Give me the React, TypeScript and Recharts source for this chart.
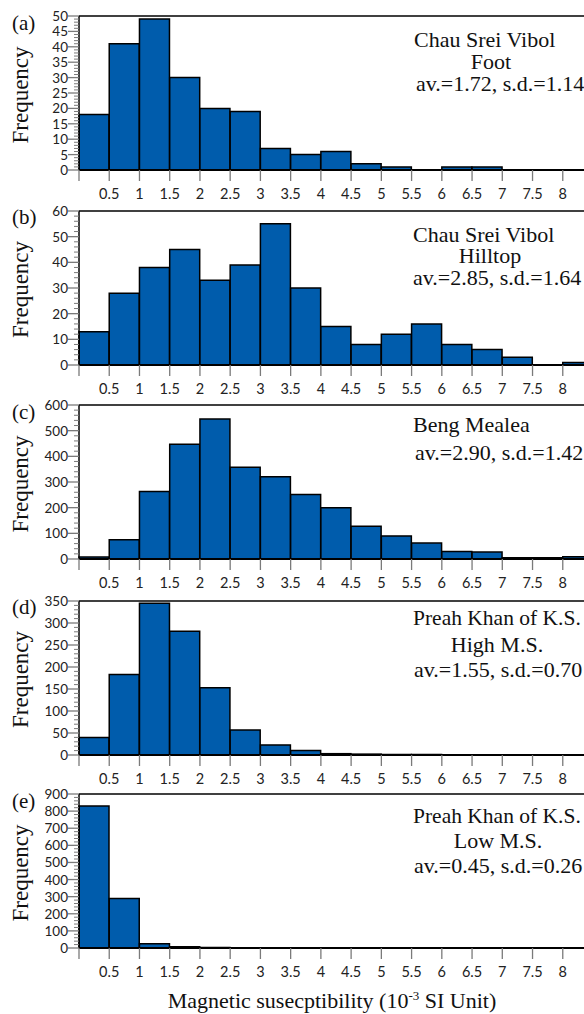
import React from 'react';
import { BarChart, Bar, XAxis, YAxis, ReferenceLine } from 'recharts';

// ---- data ----
const binEdges = [0, 0.5, 1, 1.5, 2, 2.5, 3, 3.5, 4, 4.5, 5, 5.5, 6, 6.5, 7, 7.5, 8];
const freqFoot = [18, 41, 49, 30, 20, 19, 7, 5, 6, 2, 1, 0, 1, 1, 0, 0, 0];
const freqHilltop = [13, 28, 38, 45, 33, 39, 55, 30, 15, 8, 12, 16, 8, 6, 3, 0, 1];
const freqBeng = [8, 75, 263, 447, 545, 357, 320, 251, 200, 128, 90, 62, 29, 27, 5, 5, 9];
const freqHigh = [40, 183, 345, 281, 153, 57, 23, 10, 3, 2, 1, 1, 0, 0, 0, 0, 0];
const freqLow = [830, 290, 25, 8, 3, 0, 0, 0, 0, 0, 0, 0, 0, 0, 0, 0, 0];

const yTicksA = [0, 5, 10, 15, 20, 25, 30, 35, 40, 45, 50];
const yTicksB = [0, 10, 20, 30, 40, 50, 60];
const yTicksC = [0, 100, 200, 300, 400, 500, 600];
const yTicksD = [0, 50, 100, 150, 200, 250, 300, 350];
const yTicksE = [0, 100, 200, 300, 400, 500, 600, 700, 800, 900];

const panelLabels = ['(a)', '(b)', '(c)', '(d)', '(e)'];
const annotA = ['Chau Srei Vibol', 'Foot', 'av.=1.72, s.d.=1.14'];
const annotB = ['Chau Srei Vibol', 'Hilltop', 'av.=2.85, s.d.=1.64'];
const annotC = ['Beng Mealea', 'av.=2.90, s.d.=1.42'];
const annotD = ['Preah Khan of K.S.', 'High M.S.', 'av.=1.55, s.d.=0.70'];
const annotE = ['Preah Khan of K.S.', 'Low M.S.', 'av.=0.45, s.d.=0.26'];

// ---- layout / style ----
const PAGE_W = 584;
const PAGE_H = 1014;
const CHART_W = 593;
const Y_AXIS_W = 79;
const MARGIN_TOP = 10;
const PLOT_H = 154;
const X_AXIS_H = 42;
const CHART_H = MARGIN_TOP + PLOT_H + X_AXIS_H;
const BAR_FILL = '#005cac';
const TICK_GREY = '#7a7a7a';
const SERIF = '"Liberation Serif", "Times New Roman", serif';
const SANS = 'Lato, "Open Sans", sans-serif';

type LineSpec = { dx: number; dy: number; anchor: 'start' | 'middle'; size?: number };

const panels = [
  { values: freqFoot, majors: yTicksA, minorStep: 1, top: 16, annot: annotA,
    lines: [{ dx: 414, dy: 31, anchor: 'start' }, { dx: 491, dy: 53, anchor: 'middle' }, { dx: 416, dy: 75, anchor: 'start' }] as LineSpec[] },
  { values: freqHilltop, majors: yTicksB, minorStep: 2, top: 210.5, annot: annotB,
    lines: [{ dx: 413, dy: 31, anchor: 'start' }, { dx: 490, dy: 52.5, anchor: 'middle' }, { dx: 413, dy: 74, anchor: 'start' }] as LineSpec[] },
  { values: freqBeng, majors: yTicksC, minorStep: 20, top: 405, annot: annotC,
    lines: [{ dx: 413, dy: 27, anchor: 'start' }, { dx: 415, dy: 55, anchor: 'start' }] as LineSpec[] },
  { values: freqHigh, majors: yTicksD, minorStep: 10, top: 600.5, annot: annotD,
    lines: [{ dx: 413, dy: 24.5, anchor: 'start', size: 21.5 }, { dx: 497, dy: 51, anchor: 'middle' }, { dx: 414, dy: 76, anchor: 'start' }] as LineSpec[] },
  { values: freqLow, majors: yTicksE, minorStep: 20, top: 794, annot: annotE,
    lines: [{ dx: 413, dy: 29, anchor: 'start', size: 21.5 }, { dx: 498, dy: 54, anchor: 'middle' }, { dx: 414, dy: 79, anchor: 'start' }] as LineSpec[] },
];

function minorTicks(majors: number[], step: number): number[] {
  const max = majors[majors.length - 1];
  const out: number[] = [];
  for (let v = 0; v <= max + 1e-9; v += step) out.push(Math.round(v * 1000) / 1000);
  return out;
}

const renderXTick = (props: any) => {
  const { x, y, payload } = props;
  const half = payload && typeof payload.offset === 'number' && payload.offset > 0 ? payload.offset : 15.12;
  const x0 = x - half;
  const v = payload.value;
  return (
    <g>
      <line x1={x0} y1={y} x2={x0} y2={y + 11} stroke={TICK_GREY} strokeWidth={1.3} />
      {v !== 0 && (
        <text x={x0} y={y + 23} textAnchor="middle" dominantBaseline="central"
          fontFamily={SANS} fontSize={14.5} fill="#222">{String(v)}</text>
      )}
    </g>
  );
};

const makeYTick = (majors: number[]) => (props: any) => {
  const { x, y, payload } = props;
  const isMajor = majors.indexOf(payload.value) >= 0;
  return (
    <g>
      <line x1={x - (isMajor ? 11 : 5)} y1={y} x2={x} y2={y} stroke={TICK_GREY} strokeWidth={isMajor ? 1.3 : 1} />
      {isMajor && (
        <text x={x - 11} y={y} textAnchor="end" dominantBaseline="central"
          fontFamily={SANS} fontSize={13.5} fill="#222">{String(payload.value)}</text>
      )}
    </g>
  );
};

function Panel({ p }: { p: typeof panels[number] }) {
  const data = binEdges.map((lo, i) => ({ lo, freq: p.values[i] }));
  const yMax = p.majors[p.majors.length - 1];
  return (
    <div style={{ position: 'absolute', left: 0, top: p.top - MARGIN_TOP }}>
      <BarChart width={CHART_W} height={CHART_H} data={data}
        margin={{ top: MARGIN_TOP, right: 0, bottom: 0, left: 0 }}
        barCategoryGap={0} barGap={0}>
        <XAxis dataKey="lo" type="category" interval={0} tickSize={0} tickMargin={0} tickLine={false}
          height={X_AXIS_H} axisLine={{ stroke: '#000', strokeWidth: 2 }} tick={renderXTick} />
        <YAxis type="number" domain={[0, yMax]} ticks={minorTicks(p.majors, p.minorStep)} interval={0}
          width={Y_AXIS_W} tickSize={0} tickMargin={0} tickLine={false} allowDataOverflow
          axisLine={{ stroke: '#000', strokeWidth: 1.5 }} tick={makeYTick(p.majors)} />
        <Bar dataKey="freq" fill={BAR_FILL} stroke="#000" strokeWidth={1.5} isAnimationActive={false} />
        <ReferenceLine y={yMax} stroke="#000" strokeWidth={1.5} />
      </BarChart>
    </div>
  );
}

export default function App() {
  return (
    <div style={{ position: 'absolute', left: 0, top: 0, width: PAGE_W, height: PAGE_H, overflow: 'hidden', background: '#fff' }}>
      {panels.map((p, i) => <Panel key={i} p={p} />)}
      <svg width={PAGE_W} height={PAGE_H} style={{ position: 'absolute', left: 0, top: 0, pointerEvents: 'none' }}>
        {panels.map((p, i) => {
          const mid = p.top + PLOT_H / 2 + 2;
          return (
            <g key={i} fontFamily={SERIF} fill="#111">
              <text x={12} y={p.top + 13.5} fontSize={21}>{panelLabels[i]}</text>
              <text x={20} y={mid} fontSize={23} textAnchor="middle" dominantBaseline="central"
                transform={`rotate(-90 20 ${mid})`}>Frequency</text>
              {p.annot.map((t, j) => (
                <text key={j} x={p.lines[j].dx} y={p.top + p.lines[j].dy} fontSize={p.lines[j].size ?? 22}
                  textAnchor={p.lines[j].anchor}>{t}</text>
              ))}
            </g>
          );
        })}
        <text x={332} y={1008} fontFamily={SERIF} fontSize={22} textAnchor="middle" fill="#111">
          Magnetic susecptibility (10<tspan fontSize={13} dy={-8}>-3</tspan><tspan dy={8}> SI Unit)</tspan>
        </text>
      </svg>
    </div>
  );
}
